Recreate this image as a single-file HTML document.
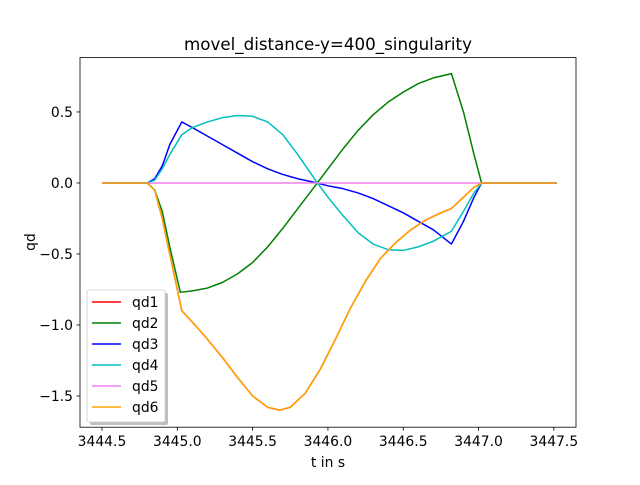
<!DOCTYPE html>
<html><head><meta charset="utf-8"><style>
body{margin:0;background:#fff;}
svg text{font-family:"DejaVu Sans","Liberation Sans",sans-serif;}
</style></head><body>
<svg id="chart" width="640" height="480" xmlns="http://www.w3.org/2000/svg">
<rect width="640" height="480" fill="#fff"/>
<g id="plot"></g>
</svg>
<script>
const ns="http://www.w3.org/2000/svg";
const seriesNames=["qd1","qd2","qd3","qd4","qd5","qd6"];
const seriesColors=["#ff0000","#008000","#0000ff","#00bfbf","#ee82ee","#ffa500"];
const xTicks=[3444.5,3445.0,3445.5,3446.0,3446.5,3447.0,3447.5];
const yTicks=[0.5,0.0,-0.5,-1.0,-1.5];
const tQd2=[3444.5,3444.8,3444.85,3444.9,3444.95,3445.02,3445.1,3445.2,3445.3,3445.4,3445.5,3445.6,3445.7,3445.8,3445.93,3446.0,3446.1,3446.2,3446.3,3446.4,3446.5,3446.6,3446.7,3446.82,3446.9,3446.97,3447.02,3447.52];
const vQd2=[0,0,-0.05,-0.2,-0.45,-0.77,-0.76,-0.74,-0.70,-0.64,-0.56,-0.45,-0.32,-0.18,0,0.1,0.24,0.37,0.48,0.57,0.64,0.70,0.74,0.77,0.5,0.2,0,0];
const tQd3=[3444.5,3444.8,3444.85,3444.9,3444.95,3445.03,3445.1,3445.2,3445.3,3445.4,3445.5,3445.6,3445.7,3445.8,3445.93,3446.0,3446.1,3446.2,3446.3,3446.4,3446.5,3446.6,3446.7,3446.82,3446.9,3446.97,3447.02,3447.52];
const vQd3=[0,0,0.03,0.12,0.27,0.43,0.39,0.33,0.27,0.21,0.15,0.10,0.06,0.03,0,-0.02,-0.04,-0.07,-0.11,-0.16,-0.21,-0.27,-0.33,-0.43,-0.27,-0.1,0,0];
const tQd4=[3444.5,3444.8,3444.85,3444.9,3444.95,3445.03,3445.1,3445.2,3445.3,3445.4,3445.5,3445.6,3445.7,3445.8,3445.93,3446.0,3446.1,3446.2,3446.3,3446.4,3446.5,3446.6,3446.7,3446.82,3446.9,3446.97,3447.02,3447.52];
const vQd4=[0,0,0.02,0.1,0.2,0.34,0.39,0.43,0.46,0.475,0.47,0.43,0.34,0.2,0,-0.1,-0.23,-0.35,-0.43,-0.47,-0.475,-0.45,-0.41,-0.34,-0.2,-0.07,0,0];
const tQd5=[3444.5,3447.52];
const vQd5=[0,0];
const tQd6=[3444.5,3444.8,3444.85,3444.9,3444.95,3445.03,3445.1,3445.2,3445.3,3445.4,3445.5,3445.6,3445.68,3445.75,3445.85,3445.95,3446.05,3446.15,3446.25,3446.35,3446.45,3446.55,3446.65,3446.75,3446.82,3446.9,3446.97,3447.02,3447.52];
const vQd6=[0,0,-0.05,-0.25,-0.5,-0.9,-0.98,-1.1,-1.23,-1.37,-1.5,-1.58,-1.6,-1.58,-1.48,-1.31,-1.1,-0.88,-0.69,-0.53,-0.42,-0.33,-0.26,-0.21,-0.18,-0.1,-0.03,0,0];
const tAll=[tQd6,tQd2,tQd3,tQd4,tQd5,tQd6];
const vAll=[vQd6,vQd2,vQd3,vQd4,vQd5,vQd6];

const L=80,R=576,T=57.6,B=427.2;
const xMin=3444.354,xMax=3447.647,yMin=-1.72,yMax=0.883;
const xs=v=>L+(v-xMin)/(xMax-xMin)*(R-L);
const ys=v=>B-(v-yMin)/(yMax-yMin)*(B-T);
const g=document.getElementById("plot");
function mk(tag,attrs,parent){const e=document.createElementNS(ns,tag);for(const k in attrs)e.setAttribute(k,attrs[k]);(parent||g).appendChild(e);return e;}

for(let i=0;i<seriesNames.length;i++){
  const pts=tAll[i].map((t,j)=>xs(t).toFixed(2)+","+ys(vAll[i][j]).toFixed(2)).join(" ");
  const pl=mk("polyline",{points:pts,fill:"none",stroke:seriesColors[i],"stroke-width":1.5,"stroke-linejoin":"round"});
  
  
}
const fr=mk("rect",{x:L,y:T,width:R-L,height:B-T,fill:"none",stroke:"#000","stroke-width":0.8});


xTicks.forEach(v=>{
  const x=xs(v);
  mk("line",{x1:x,x2:x,y1:B,y2:B+3.5,stroke:"#000","stroke-width":0.8});
  const t=mk("text",{x:x,y:B+19,"text-anchor":"middle","font-size":13.9});
  t.textContent=v.toFixed(1);
  
  
});
yTicks.forEach(v=>{
  const y=ys(v);
  mk("line",{x1:L-3.5,x2:L,y1:y,y2:y,stroke:"#000","stroke-width":0.8});
  const t=mk("text",{x:L-7,y:y+5,"text-anchor":"end","font-size":13.9});
  t.textContent=(v<0?"\u2212":"")+Math.abs(v).toFixed(1);
  
  
});
let t=mk("text",{x:328,y:50,"text-anchor":"middle","font-size":16.7});
t.textContent="movel_distance-y=400_singularity";


t=mk("text",{x:328,y:467,"text-anchor":"middle","font-size":13.9});
t.textContent="t in s";


t=mk("text",{x:0,y:0,"text-anchor":"middle","font-size":13.9,transform:"translate(35,242) rotate(-90)"});
t.textContent="qd";


const lg=mk("g",{});


mk("rect",{x:90,y:293,width:78,height:132,rx:2,fill:"#808080","fill-opacity":0.5},lg);
mk("rect",{x:87,y:290,width:78,height:132,rx:2,fill:"#fff",stroke:"#ccc","stroke-width":0.8},lg);
seriesNames.forEach((n,i)=>{
  const y=302+i*21;
  const e=mk("g",{},lg);
  
  
  mk("line",{x1:92,x2:121,y1:y,y2:y,stroke:seriesColors[i],"stroke-width":1.5},e);
  const tx=mk("text",{x:132,y:y+5,"font-size":13.9},e);
  tx.textContent=n;
});
</script>
</body></html>
